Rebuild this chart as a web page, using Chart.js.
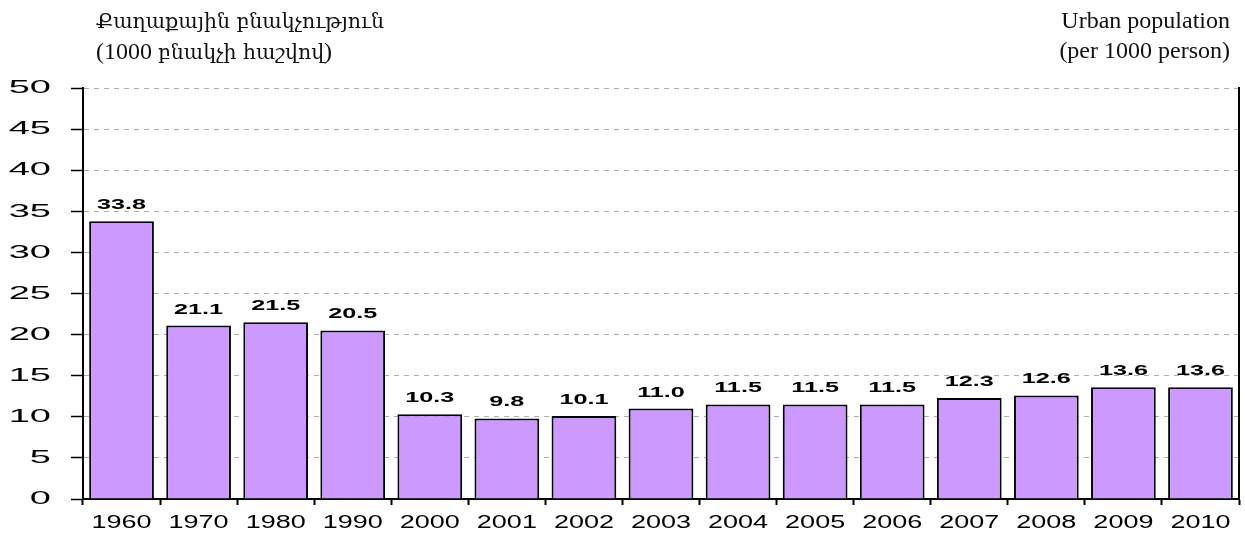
<!DOCTYPE html>
<html>
<head>
<meta charset="utf-8">
<script src="https://cdn.jsdelivr.net/npm/chart.js@4/dist/chart.umd.min.js"></script>
<style>
  html, body { margin: 0; padding: 0; background: #fff; }
  #wrap { position: relative; width: 1245px; height: 533px; overflow: hidden; }
  canvas { position: absolute; left: 0; top: 0; }
  .ttl { position: absolute; font-family: "Liberation Serif", "DejaVu Serif", serif; font-size: 24px; line-height: 30px; color: #111; white-space: nowrap; }
  .hy { font-family: "DejaVu Serif", "Noto Sans", serif; font-size: 20.5px; }
  #tl { left: 96px; top: 5px; }
  #tr { right: 15px; top: 5px; text-align: right; }
</style>
</head>
<body>
<div id="wrap">
  <canvas id="c" width="1245" height="533"></canvas>
  <div class="ttl" id="tl"><span class="hy">Քաղաքային բնակչություն</span><br>(1000 <span class="hy">բնակչի հաշվով</span>)</div>
  <div class="ttl" id="tr">Urban population<br>(per 1000 person)</div>
</div>
<script>
const categories = ['1960','1970','1980','1990','2000','2001','2002','2003','2004','2005','2006','2007','2008','2009','2010'];
const values = [33.8, 21.1, 21.5, 20.5, 10.3, 9.8, 10.1, 11.0, 11.5, 11.5, 11.5, 12.3, 12.6, 13.6, 13.6];
const yMin = 0, yMax = 50, yStep = 5;

// horizontally stretched text like the reference
const stretchPlugin = {
  id: 'stretch',
  beforeInit(chart) {
    const ctx = chart.ctx;
    const orig = CanvasRenderingContext2D.prototype.fillText;
    ctx.fillText = function(t, x, y, mw) {
      const f = this.font;
      let sx = 1;
      if (/\b19px/.test(f)) sx = 2.0;
      else if (/\b18px/.test(f)) sx = 1.5;
      else if (/\b15px/.test(f)) sx = 1.68;
      if (sx === 1) {
        if (mw === undefined) return orig.call(this, t, x, y);
        return orig.call(this, t, x, y, mw);
      }
      this.save();
      this.translate(x, y);
      this.scale(sx, 1);
      orig.call(this, t, 0, 0);
      this.restore();
    };
  }
};

const labelPlugin = {
  id: 'barLabels',
  afterDatasetsDraw(chart) {
    const ctx = chart.ctx;
    const meta = chart.getDatasetMeta(0);
    ctx.save();
    ctx.font = 'bold 15px "Liberation Sans", Arial, sans-serif';
    ctx.fillStyle = '#000';
    ctx.textAlign = 'center';
    ctx.textBaseline = 'alphabetic';
    meta.data.forEach((bar, i) => {
      ctx.fillText(values[i].toFixed(1), bar.x, bar.y - 12);
    });
    ctx.restore();
  }
};

new Chart(document.getElementById('c'), {
  type: 'bar',
  data: {
    labels: categories,
    datasets: [{
      data: values,
      backgroundColor: '#CC99FF',
      borderColor: '#000',
      borderWidth: 2,
      barPercentage: 0.84,
      categoryPercentage: 1.0
    }]
  },
  plugins: [stretchPlugin, labelPlugin],
  options: {
    responsive: false,
    animation: false,
    devicePixelRatio: 1,
    layout: { padding: { top: 88, right: 0, bottom: 0, left: 0 } },
    plugins: { legend: { display: false }, tooltip: { enabled: false } },
    scales: {
      x: {
        grid: { display: true, offset: true, drawOnChartArea: false, drawTicks: true, tickLength: 6, tickColor: '#000', tickWidth: 2 },
        border: { display: true, color: '#000', width: 2 },
        ticks: { color: '#000', font: { family: '"Liberation Sans", Arial, sans-serif', size: 18 }, padding: 7, maxRotation: 0, autoSkip: false },
        afterFit(s) { s.height = 34; }
      },
      y: {
        min: yMin, max: yMax,
        grid: { color: '#adadad', lineWidth: 1, drawTicks: true, tickLength: 12, tickColor: '#000', tickWidth: 1.5, tickBorderDash: [] },
        border: { display: true, color: '#000', width: 2, dash: [5, 5] },
        ticks: { stepSize: yStep, color: '#000', font: { family: '"Liberation Sans", Arial, sans-serif', size: 19 }, padding: 20 },
        afterFit(s) { s.width = 83; }
      },
      y2: {
        position: 'right',
        min: yMin, max: yMax,
        grid: { display: false, drawTicks: false },
        border: { display: true, color: '#000', width: 2 },
        ticks: { display: false },
        afterFit(s) { s.width = 6; }
      }
    }
  }
});
</script>
</body>
</html>
